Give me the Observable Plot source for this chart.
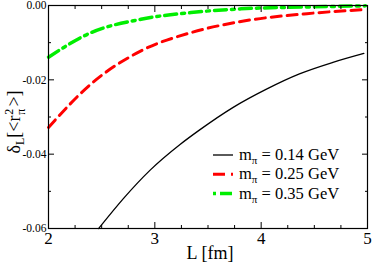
<!DOCTYPE html>
<html><head><meta charset="utf-8">
<script src="https://cdn.jsdelivr.net/npm/d3@7"></script>
<script src="https://cdn.jsdelivr.net/npm/@observablehq/plot@0.6"></script>
<style>body{margin:0;background:#fff}</style>
</head><body><div id="chart"></div>
<script>
// Series: finite-volume correction vs box size L [fm]
const L014 = [2.472, 2.706, 2.956, 3.237, 3.425, 3.737, 4.05, 4.36, 4.675, 4.966];
const v014 = [-0.0600, -0.0519, -0.0443, -0.0374, -0.0334, -0.0274, -0.0225, -0.0184, -0.0153, -0.0129];
const L025 = [2.0, 2.4, 2.87, 3.34, 3.81, 4.43, 4.98];
const v025 = [-0.0328, -0.0211, -0.0122, -0.0073, -0.0043, -0.0022, -0.0011];
const L035 = [2.0, 2.4, 2.87, 3.34, 3.81, 4.43, 4.98];
const v035 = [-0.0139, -0.0073, -0.0037, -0.0019, -0.0009, -0.0004, -0.0001];
const legendLabels = ["0.14", "0.25", "0.35"];
const xMajor = [2, 3, 4, 5];
const xMinor = [2.25, 2.5, 2.75, 3.25, 3.5, 3.75, 4.25, 4.5, 4.75];
const yMajor = [0, -0.02, -0.04, -0.06];
const yMinor = [-0.01, -0.03, -0.05];

const toRows = (Ls, vs) => Ls.map((L, i) => ({L, v: vs[i]}));
const d014 = toRows(L014, v014), d025 = toRows(L025, v025), d035 = toRows(L035, v035);

const styles = [
  {stroke: "#000000", strokeWidth: 1.3, strokeDasharray: null},
  {stroke: "#ff0000", strokeWidth: 3, strokeDasharray: "10,6"},
  {stroke: "#00ee00", strokeWidth: 3.5, strokeDasharray: "12,5,3,5"}
];
const font = "'Liberation Serif', 'Times New Roman', serif";
const blank = () => "";

const plot = Plot.plot({
  width: 374, height: 265,
  marginLeft: 48, marginRight: 7, marginTop: 5, marginBottom: 37,
  style: {fontFamily: font, background: "white", color: "black"},
  x: {domain: [2, 5]},
  y: {domain: [-0.06, 0]},
  marks: [
    Plot.line(d014, {x: "L", y: "v", curve: "monotone-x", ...styles[0]}),
    Plot.line(d025, {x: "L", y: "v", curve: "monotone-x", ...styles[1]}),
    Plot.line(d035, {x: "L", y: "v", curve: "monotone-x", ...styles[2]}),
    Plot.frame({stroke: "black", strokeWidth: 1.2}),
    Plot.axisX({anchor: "bottom", ticks: xMajor, tickSize: -6, tickFormat: blank, label: null}),
    Plot.axisX({anchor: "top", ticks: xMajor, tickSize: -6, tickFormat: blank, label: null}),
    Plot.axisX({anchor: "bottom", ticks: xMinor, tickSize: -3, tickFormat: blank, label: null}),
    Plot.axisX({anchor: "top", ticks: xMinor, tickSize: -3, tickFormat: blank, label: null}),
    Plot.axisY({anchor: "left", ticks: yMajor, tickSize: -6, tickFormat: blank, label: null}),
    Plot.axisY({anchor: "right", ticks: yMajor, tickSize: -6, tickFormat: blank, label: null}),
    Plot.axisY({anchor: "left", ticks: yMinor, tickSize: -3, tickFormat: blank, label: null}),
    Plot.axisY({anchor: "right", ticks: yMinor, tickSize: -3, tickFormat: blank, label: null}),
    Plot.axisX({anchor: "bottom", ticks: xMajor, tickSize: 0, tickPadding: 3, fontSize: 17, tickFormat: d => String(d), label: null}),
    Plot.axisY({anchor: "left", ticks: yMajor, tickSize: 0, tickPadding: 2, fontSize: 11.5, tickFormat: d => d.toFixed(2), label: null})
  ]
});

const svg = d3.select(plot);
// x-axis title
svg.append("text").attr("x", 210).attr("y", 259).attr("text-anchor", "middle")
  .style("font-family", font).style("font-size", "18px").attr("fill", "black").text("L [fm]");

// y-axis title: δ_L[<r_π^2>]
const yl = svg.append("text").attr("transform", "translate(20,122) rotate(-90)")
  .attr("text-anchor", "middle").style("font-family", font).style("font-size", "18px").attr("fill", "black");
yl.append("tspan").text("δ");
yl.append("tspan").attr("dy", 4).style("font-size", "12px").text("L");
yl.append("tspan").attr("dy", -4).text("[<r");
yl.append("tspan").attr("dy", -7).attr("dx", 1).style("font-size", "12px").text("2");
yl.append("tspan").attr("dy", 12).attr("dx", -6).style("font-size", "12px").text("π");
yl.append("tspan").attr("dy", -5).attr("dx", 2).text(">]");

// legend
legendLabels.forEach((lab, i) => {
  const y = 155 + 19.3 * i;
  svg.append("line").attr("x1", 213).attr("x2", 233).attr("y1", y).attr("y2", y)
    .attr("stroke", styles[i].stroke).attr("stroke-width", styles[i].strokeWidth)
    .attr("stroke-dasharray", i === 0 ? null : (i === 1 ? "12,6" : "3,4,12,5"));
  const t = svg.append("text").attr("x", 239).attr("y", y + 5).attr("text-anchor", "start")
    .style("font-family", font).style("font-size", "16.5px").attr("fill", "black");
  t.append("tspan").text("m");
  t.append("tspan").attr("dy", 4).style("font-size", "11px").text("π");
  t.append("tspan").attr("dy", -4).text(` = ${lab} GeV`);
});

document.getElementById("chart").appendChild(plot);
</script>
</body></html>
